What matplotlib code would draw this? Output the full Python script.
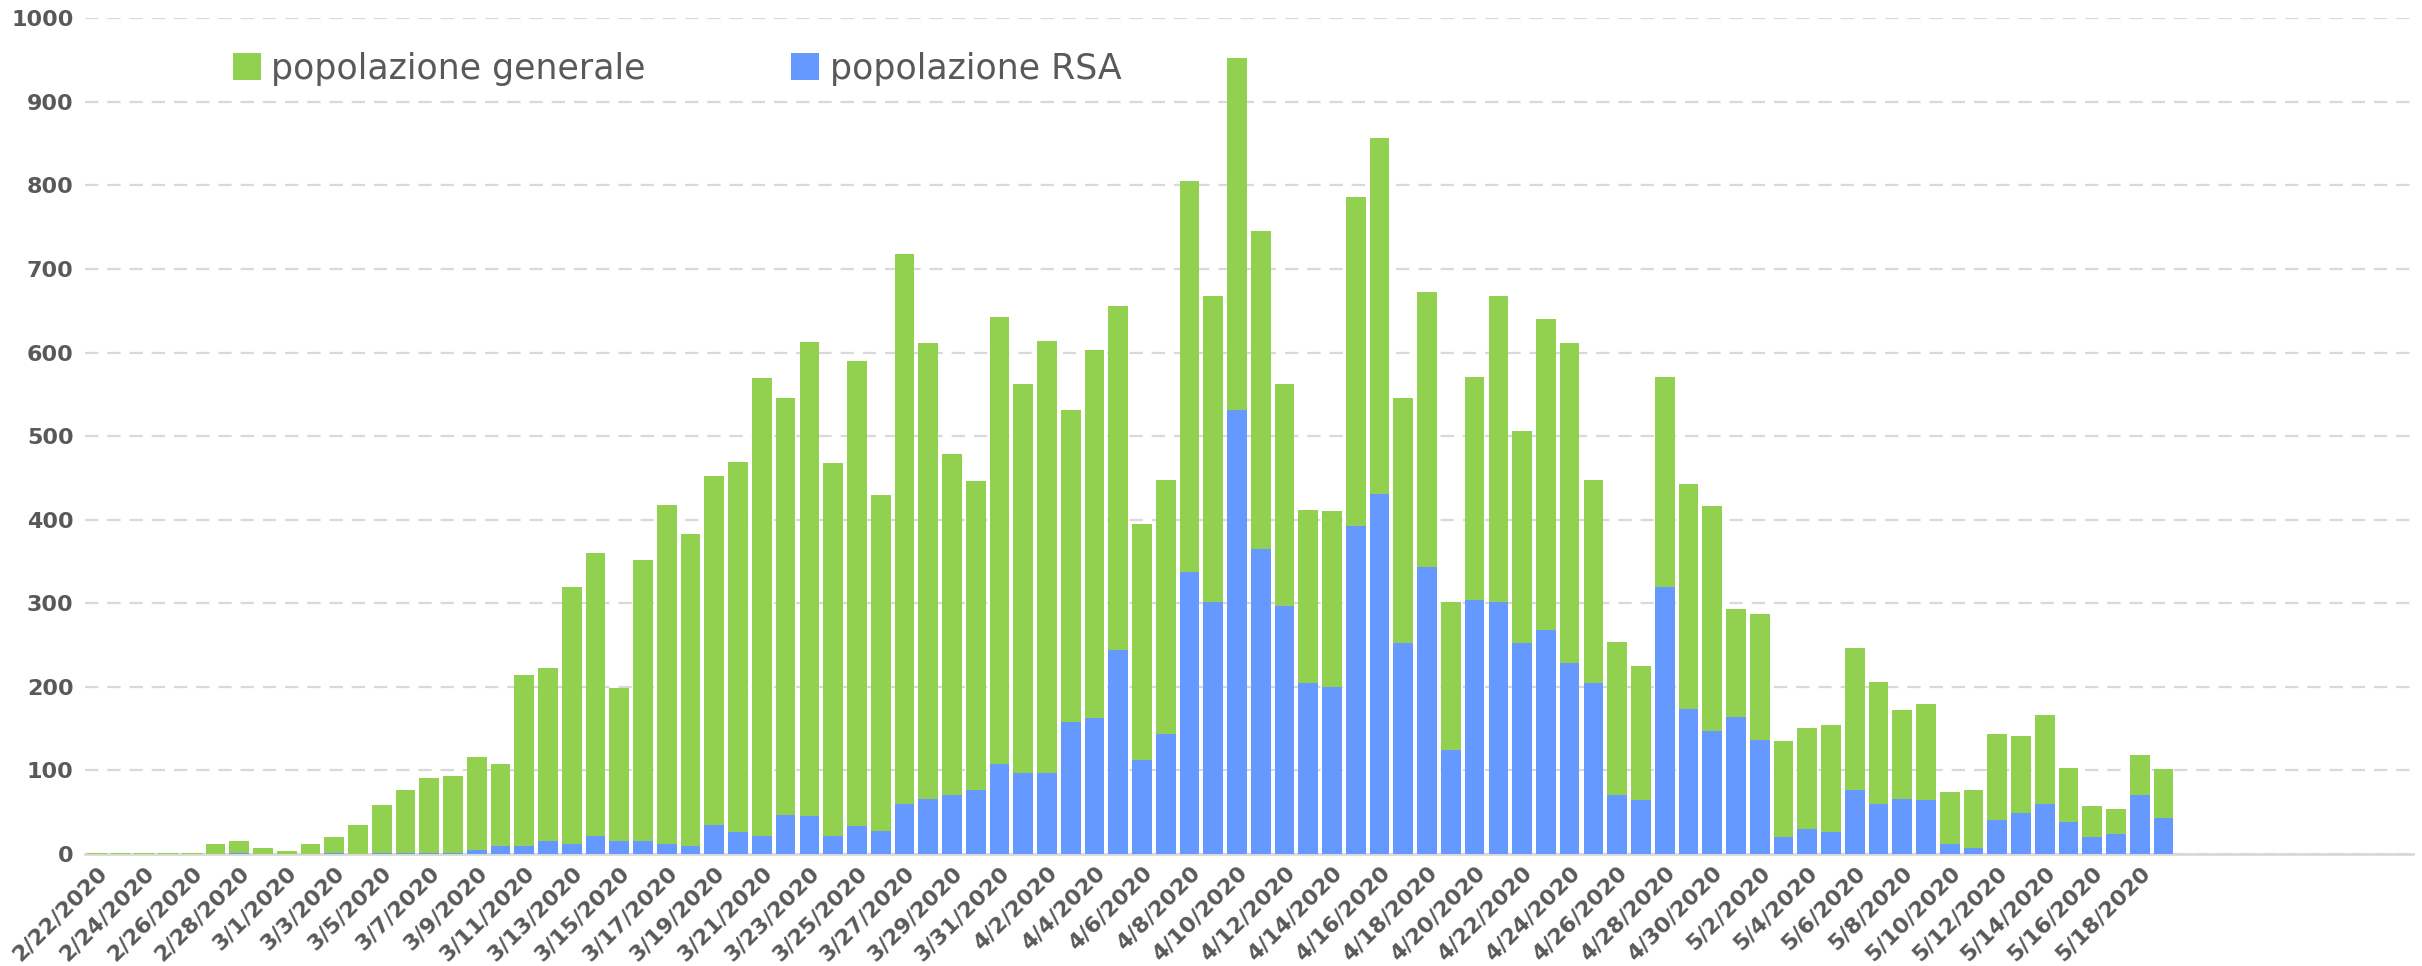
import numpy as np
import pandas as pd
import matplotlib.pyplot as plt

# date categories (2/22/2020 - 5/19/2020), plus empty slots to the right
giorni = pd.date_range('2020-02-22', '2020-05-19')
etichette = [f"{d.month}/{d.day}/{d.year}" for d in giorni]
n_vuoti = 10

# deaths per day, RSA residents (bottom of stack)
rsa = [0, 0, 0, 0, 0, 0, 1, 0,
       0, 0, 1, 0, 1, 1, 1, 1, 5, 10, 9, 16, 12, 22, 15, 15, 12, 9, 35, 26,
       21, 47, 45, 22, 34, 27, 60, 66, 70, 77, 108,
       97, 97, 158, 163, 244, 112, 144, 337, 302, 531, 365, 297, 205, 200,
       392, 431, 252, 343, 124, 304, 302, 253, 268, 228, 205, 71, 64, 320,
       174, 147,
       164, 136, 20, 30, 26, 77, 60, 66, 64, 12, 7, 41, 49, 60, 38, 20, 24,
       71, 43]

# deaths per day, general population (top of stack)
generale = [1, 1, 1, 1, 1, 12, 14, 7,
            4, 12, 19, 35, 58, 76, 90, 92, 111, 98, 205, 207, 307, 338, 184,
            337, 406, 374, 417, 443, 548, 499, 568, 446, 556, 403, 658, 546,
            409, 369, 534,
            466, 517, 373, 440, 412, 283, 303, 468, 366, 422, 381, 266, 207,
            210, 394, 426, 294, 330, 178, 267, 366, 253, 372, 383, 242, 183,
            161, 251, 269, 269,
            129, 151, 115, 121, 128, 169, 146, 106, 116, 62, 70, 102, 92, 106,
            65, 37, 30, 48, 59]

verde = '#92D050'
blu = '#6699FF'
grigio = '#595959'

fig = plt.figure(figsize=(24.22, 9.66), dpi=100)
ax = fig.add_axes([0.035, 0.116, 0.9613, 0.865])

x = np.arange(len(etichette))
ax.bar(x, rsa, width=0.83, color=blu, label='popolazione RSA', zorder=3)
ax.bar(x, generale, width=0.83, bottom=rsa, color=verde,
       label='popolazione generale', zorder=3)

ax.set_xlim(-0.5, len(etichette) + n_vuoti - 0.5)
ax.set_ylim(0, 1000)
ax.set_yticks(range(0, 1001, 100))
ax.set_xticks(x[::2])
ax.set_xticklabels(etichette[::2], rotation=45, ha='right',
                   rotation_mode='anchor')

ax.tick_params(axis='both', length=0, labelcolor=grigio, labelsize=16)
ax.tick_params(axis='x', pad=6)
ax.tick_params(axis='y', pad=8)
for t in ax.get_xticklabels() + ax.get_yticklabels():
    t.set_fontweight('bold')

ax.grid(axis='y', color='#D9D9D9', linestyle=(0, (6, 4)), linewidth=1.6,
        zorder=0)
for s in ['top', 'right', 'left']:
    ax.spines[s].set_visible(False)
ax.spines['bottom'].set_color('#D9D9D9')
ax.spines['bottom'].set_linewidth(2)
ax.spines['bottom'].set_zorder(2)
ax.set_axisbelow(True)

h, l = ax.get_legend_handles_labels()
leg = fig.legend(h[::-1], l[::-1], loc='upper left',
                 bbox_to_anchor=(0.089, 0.9645), ncol=2, frameon=False,
                 borderpad=0, handlelength=0.8, handleheight=0.8,
                 handletextpad=0.3, columnspacing=4.2,
                 prop={'family': ['Liberation Sans Narrow', 'DejaVu Sans'],
                       'size': 25})
for t in leg.get_texts():
    t.set_color(grigio)

fig.savefig('out.png', dpi=100)
